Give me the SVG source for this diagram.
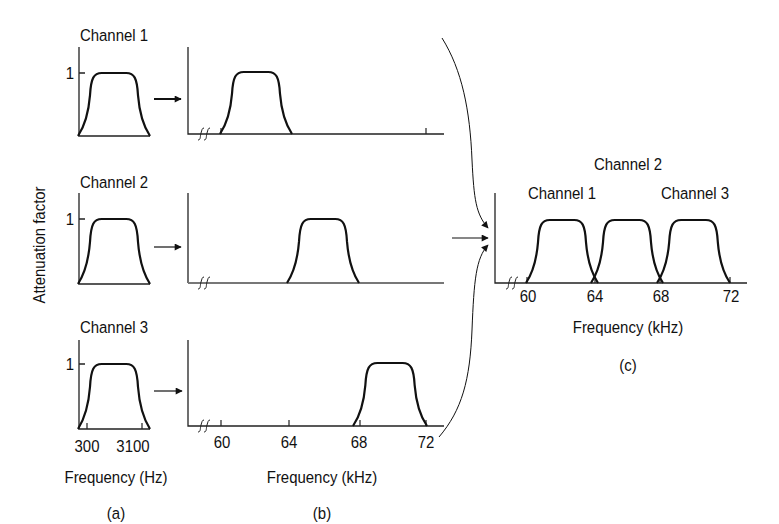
<svg xmlns="http://www.w3.org/2000/svg" width="779" height="524" viewBox="0 0 779 524">
<style>
text{font-family:"Liberation Sans",Arial,sans-serif;font-size:17px;fill:#111;text-anchor:middle}
.ax{stroke:#222;stroke-width:1.3;fill:none}
.pulse{stroke:#111;stroke-width:2.2;fill:none}
.tk{stroke:#222;stroke-width:1.2}
.brk{stroke:#222;stroke-width:1;fill:none}
.arr{stroke:#111;fill:none}
</style>
<defs>
<marker id="ah" viewBox="0 0 10 10" refX="9" refY="5" markerWidth="9" markerHeight="7" markerUnits="userSpaceOnUse" orient="auto"><path d="M0,0 L10,5 L0,10 z" fill="#111"/></marker>
</defs>

<text transform="translate(45 245) rotate(-90) scale(0.88 1)">Attenuation factor</text>

<g id="a-ch1">
<text transform="translate(114 41) scale(0.88 1)">Channel 1</text>
<path class="ax" d="M79,47 V136 H150 M79,73 H85"/>
<text transform="translate(70 79) scale(0.88 1)">1</text>
<path class="pulse" vector-effect="non-scaling-stroke" d="M0,0 C11,-19 15,-41 16.7,-65 C18,-92 22,-100 33,-100 L67,-100 C78,-100 82,-92 83.3,-65 C85,-41 89,-19 100,0" transform="translate(78,136) scale(0.72,0.63)"/>
</g>
<g id="a-ch2">
<text transform="translate(114 188) scale(0.88 1)">Channel 2</text>
<path class="ax" d="M79,193 V284 H150 M79,219 H85"/>
<text transform="translate(70 225) scale(0.88 1)">1</text>
<path class="pulse" vector-effect="non-scaling-stroke" d="M0,0 C11,-19 15,-41 16.7,-65 C18,-92 22,-100 33,-100 L67,-100 C78,-100 82,-92 83.3,-65 C85,-41 89,-19 100,0" transform="translate(78,284) scale(0.72,0.65)"/>
</g>
<g id="a-ch3">
<text transform="translate(114 333) scale(0.88 1)">Channel 3</text>
<path class="ax" d="M79,340 V429 H150 M79,364 H85"/>
<text transform="translate(70 370) scale(0.88 1)">1</text>
<path class="tk" d="M87,429 V423 M142,429 V423"/>
<path class="pulse" vector-effect="non-scaling-stroke" d="M0,0 C11,-19 15,-41 16.7,-65 C18,-92 22,-100 33,-100 L67,-100 C78,-100 82,-92 83.3,-65 C85,-41 89,-19 100,0" transform="translate(78,429) scale(0.72,0.65)"/>
<text transform="translate(87 452) scale(0.88 1)">300</text>
<text transform="translate(133 452) scale(0.88 1)">3100</text>
<text transform="translate(116 483) scale(0.88 1)">Frequency (Hz)</text>
<text transform="translate(116 519) scale(0.88 1)">(a)</text>
</g>

<g id="b-ch1">
<path class="ax" d="M188,47 V134 H444"/>
<path class="tk" d="M221,134 V128 M426,134 V128"/>
<path class="brk" d="M198,140 C201,140 200,136 201,133 C202,130 202,128 204,128 M204,140 C207,140 206,136 207,133 C208,130 208,128 210,128"/>
<path class="pulse" vector-effect="non-scaling-stroke" d="M0,0 C11,-19 15,-41 16.7,-65 C18,-92 22,-100 33,-100 L67,-100 C78,-100 82,-92 83.3,-65 C85,-41 89,-19 100,0" transform="translate(220,134) scale(0.72,0.62)"/>
</g>
<g id="b-ch2">
<path class="ax" d="M188,193 V283"/>
<path d="M188,283 H444" stroke="#777" stroke-width="2" fill="none"/>
<path class="brk" d="M198,289 C201,289 200,285 201,282 C202,279 202,277 204,277 M204,289 C207,289 206,285 207,282 C208,279 208,277 210,277"/>
<path class="pulse" vector-effect="non-scaling-stroke" d="M0,0 C11,-19 15,-41 16.7,-65 C18,-92 22,-100 33,-100 L67,-100 C78,-100 82,-92 83.3,-65 C85,-41 89,-19 100,0" transform="translate(287,283) scale(0.72,0.64)"/>
</g>
<g id="b-ch3">
<path class="ax" d="M188,340 V426 H444"/>
<path class="tk" d="M221,426 V420 M289,426 V420 M360,426 V420 M426,426 V420"/>
<path class="brk" d="M198,432 C201,432 200,428 201,425 C202,422 202,420 204,420 M204,432 C207,432 206,428 207,425 C208,422 208,420 210,420"/>
<path class="pulse" vector-effect="non-scaling-stroke" d="M0,0 C11,-19 15,-41 16.7,-65 C18,-92 22,-100 33,-100 L67,-100 C78,-100 82,-92 83.3,-65 C85,-41 89,-19 100,0" transform="translate(353,426) scale(0.74,0.63)"/>
<text transform="translate(222 448) scale(0.88 1)">60</text>
<text transform="translate(289 448) scale(0.88 1)">64</text>
<text transform="translate(359 448) scale(0.88 1)">68</text>
<text transform="translate(426 448) scale(0.88 1)">72</text>
<text transform="translate(322 483) scale(0.88 1)">Frequency (kHz)</text>
<text transform="translate(322 519) scale(0.88 1)">(b)</text>
</g>

<g id="c">
<text transform="translate(628 170) scale(0.88 1)">Channel 2</text>
<text transform="translate(562 199) scale(0.88 1)">Channel 1</text>
<text transform="translate(695 199) scale(0.88 1)">Channel 3</text>
<path class="ax" d="M495,193 V283 H747"/>
<path class="tk" d="M527,283 V277 M595,283 V277 M660,283 V277 M730,283 V277"/>
<path class="brk" d="M506,289 C509,289 508,285 509,282 C510,279 510,277 512,277 M512,289 C515,289 514,285 515,282 C516,279 516,277 518,277"/>
<path class="pulse" vector-effect="non-scaling-stroke" d="M0,0 C11,-19 15,-41 16.7,-65 C18,-92 22,-100 33,-100 L67,-100 C78,-100 82,-92 83.3,-65 C85,-41 89,-19 100,0" transform="translate(526,283) scale(0.72,0.63)"/>
<path class="pulse" vector-effect="non-scaling-stroke" d="M0,0 C11,-19 15,-41 16.7,-65 C18,-92 22,-100 33,-100 L67,-100 C78,-100 82,-92 83.3,-65 C85,-41 89,-19 100,0" transform="translate(591,283) scale(0.72,0.63)"/>
<path class="pulse" vector-effect="non-scaling-stroke" d="M0,0 C11,-19 15,-41 16.7,-65 C18,-92 22,-100 33,-100 L67,-100 C78,-100 82,-92 83.3,-65 C85,-41 89,-19 100,0" transform="translate(657,283) scale(0.73,0.63)"/>
<text transform="translate(528 302) scale(0.88 1)">60</text>
<text transform="translate(595 302) scale(0.88 1)">64</text>
<text transform="translate(661 302) scale(0.88 1)">68</text>
<text transform="translate(731 302) scale(0.88 1)">72</text>
<text transform="translate(628 333) scale(0.88 1)">Frequency (kHz)</text>
<text transform="translate(628 371) scale(0.88 1)">(c)</text>
</g>

<g id="connectors">
<path class="arr" stroke-width="2" d="M154,99 H181" marker-end="url(#ah)"/>
<path class="arr" stroke-width="1.2" d="M154,247 H181" marker-end="url(#ah)"/>
<path class="arr" stroke-width="1.2" d="M154,391 H182" marker-end="url(#ah)"/>
<path class="arr" stroke-width="1.2" d="M452,238 H488" marker-end="url(#ah)"/>
<path class="arr" stroke-width="1" d="M442,38 C462,70 470,110 472,160 C474,200 476,214 488,228" marker-end="url(#ah)"/>
<path class="arr" stroke-width="1" d="M439,437 C462,410 470,380 472,330 C474,280 476,258 488,245" marker-end="url(#ah)"/>
</g>
</svg>
